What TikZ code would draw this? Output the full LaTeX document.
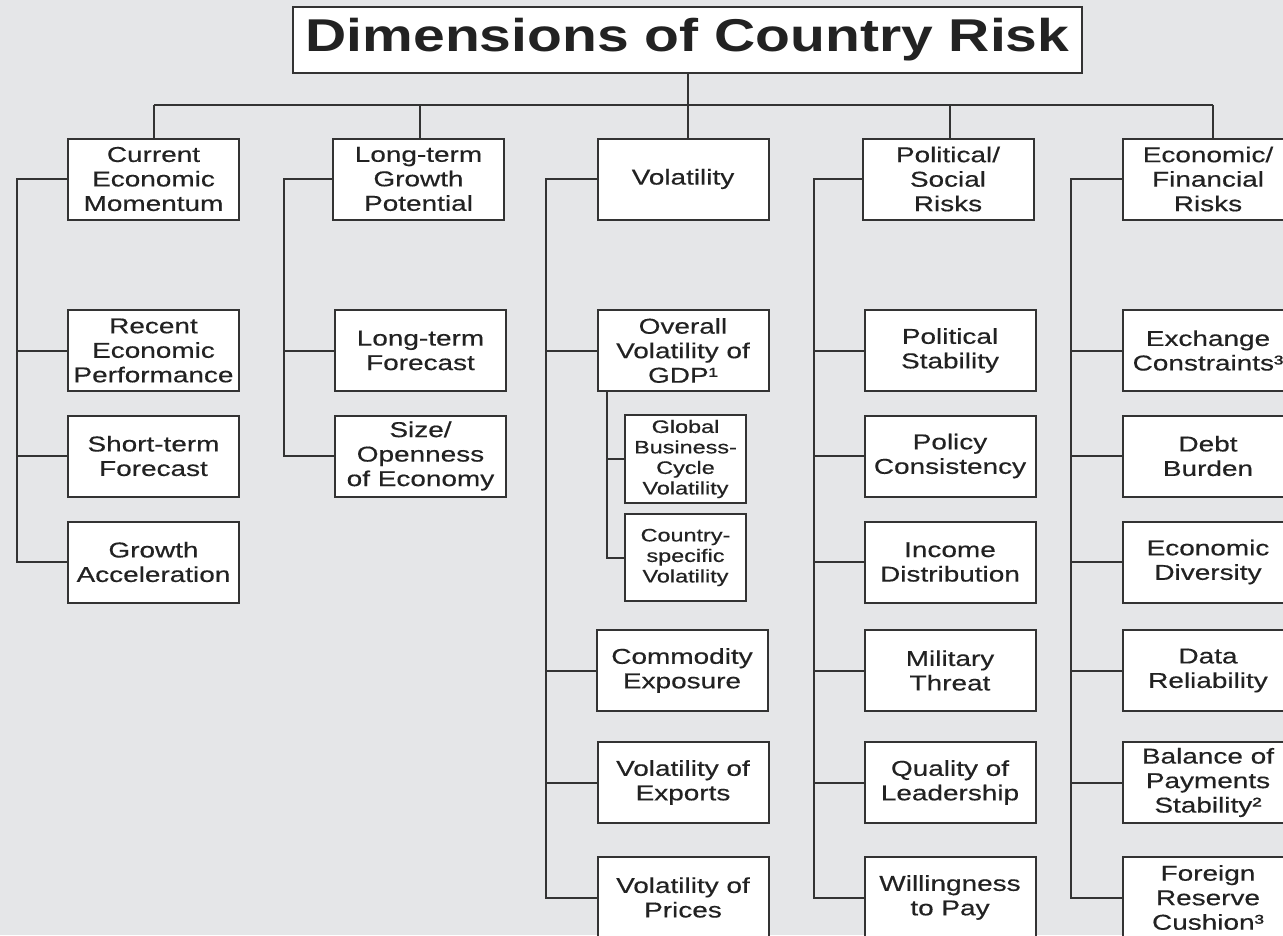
\documentclass[tikz,border=0pt]{standalone}
\usepackage{fontspec}
\newfontfamily\boxfont[FakeStretch=1.3,FakeBold=0.4]{Liberation Sans}
\newfontfamily\smallfont[FakeStretch=1.3,FakeBold=0.6]{Liberation Sans}
\newfontfamily\titlefont[FakeStretch=1.24]{Liberation Sans}
\definecolor{bgc}{HTML}{E5E6E8}
\definecolor{linec}{HTML}{333333}
\definecolor{textc}{HTML}{222222}
\tikzset{
  box/.style={draw=linec, line width=2pt, fill=white, minimum width=171pt,
    minimum height=81pt, inner sep=0pt, align=center, text=textc,
    font=\boxfont\fontsize{21.5}{24.5}\selectfont},
  smallbox/.style={box, minimum width=121pt, minimum height=88pt,
    font=\smallfont\fontsize{18}{20.5}\selectfont},
  link/.style={draw=linec, line width=2pt}
}
\begin{document}
\begin{tikzpicture}[x=1pt, y=-1pt]
\fill[bgc] (0,0) rectangle (1283,935);
\useasboundingbox (0,0) rectangle (1283,935);
% title
\node[box, minimum width=789pt, minimum height=66pt,
  font=\titlefont\bfseries\fontsize{46}{50}\selectfont] (title) at (687.5,40) {Dimensions of Country Risk};
% top level
\node[box] (cem) at (153.5,179) {Current\\Economic\\Momentum};
\node[box] (ltg) at (418.5,179) {Long-term\\Growth\\Potential};
\node[box] (vol) at (683,179) {Volatility};
\node[box] (pol) at (948,179) {Political/\\Social\\Risks};
\node[box] (eco) at (1208,179) {Economic/\\Financial\\Risks};
% column A
\node[box] (rep) at (153.5,350.5) {Recent\\Economic\\Performance};
\node[box] (stf) at (153.5,456) {Short-term\\Forecast};
\node[box] (gra) at (153.5,562) {Growth\\Acceleration};
% column B
\node[box] (ltf) at (420.5,350.5) {Long-term\\Forecast};
\node[box] (soe) at (420.5,456) {Size/\\Openness\\of Economy};
% column C
\node[box] (ovg) at (683,350.5) {Overall\\Volatility of\\GDP¹};
\node[smallbox] (gbc) at (685.5,459) {Global\\Business-\\Cycle\\Volatility};
\node[smallbox, minimum height=87pt] (csv) at (685.5,557.5) {Country-\\specific\\Volatility};
\node[box] (cex) at (682,670.5) {Commodity\\Exposure};
\node[box] (vex) at (683,782.5) {Volatility of\\Exports};
\node[box] (vpr) at (683,897.5) {Volatility of\\Prices};
% column D
\node[box] (pst) at (950,350.5) {Political\\Stability};
\node[box] (pco) at (950,456) {Policy\\Consistency};
\node[box] (idi) at (950,562) {Income\\Distribution};
\node[box] (mth) at (950,670.5) {Military\\Threat};
\node[box] (qol) at (950,782.5) {Quality of\\Leadership};
\node[box] (wtp) at (950,897.5) {Willingness\\to Pay};
% column E
\node[box] (exc) at (1208,350.5) {Exchange\\Constraints³};
\node[box] (dbu) at (1208,456) {Debt\\Burden};
\node[box] (edi) at (1208,562) {Economic\\Diversity};
\node[box] (dre) at (1208,670.5) {Data\\Reliability};
\node[box] (bop) at (1208,782.5) {Balance of\\Payments\\Stability²};
\node[box] (frc) at (1208,897.5) {Foreign\\Reserve\\Cushion³};
% bus
\coordinate (sA) at (154,105);
\coordinate (sB) at (420,105);
\coordinate (sD) at (950,105);
\coordinate (sE) at (1213,105);
\draw[link] (sA) -- (sE);
\draw[link] (title.south) -- (title.south |- vol.north);
\draw[link] (sA) -- (sA |- cem.north);
\draw[link] (sB) -- (sB |- ltg.north);
\draw[link] (sD) -- (sD |- pol.north);
\draw[link] (sE) -- (sE |- eco.north);
% spines
\coordinate (pA) at (17,0);
\coordinate (pB) at (284,0);
\coordinate (pC) at (546,0);
\coordinate (pD) at (814,0);
\coordinate (pE) at (1071,0);
\coordinate (pC2) at (607,0);
\draw[link] (cem.west) -| (pA |- gra.west) -- (gra.west);
\draw[link] (rep.west) -- (rep.west -| pA);
\draw[link] (stf.west) -- (stf.west -| pA);
\draw[link] (ltg.west) -| (pB |- soe.west) -- (soe.west);
\draw[link] (ltf.west) -- (ltf.west -| pB);
\draw[link] (vol.west) -| (pC |- vpr.west) -- (vpr.west);
\draw[link] (ovg.west) -- (ovg.west -| pC);
\draw[link] (cex.west) -- (cex.west -| pC);
\draw[link] (vex.west) -- (vex.west -| pC);
\draw[link] (ovg.south -| pC2) |- (csv.west);
\draw[link] (gbc.west) -- (gbc.west -| pC2);
\draw[link] (pol.west) -| (pD |- wtp.west) -- (wtp.west);
\draw[link] (pst.west) -- (pst.west -| pD);
\draw[link] (pco.west) -- (pco.west -| pD);
\draw[link] (idi.west) -- (idi.west -| pD);
\draw[link] (mth.west) -- (mth.west -| pD);
\draw[link] (qol.west) -- (qol.west -| pD);
\draw[link] (eco.west) -| (pE |- frc.west) -- (frc.west);
\draw[link] (exc.west) -- (exc.west -| pE);
\draw[link] (dbu.west) -- (dbu.west -| pE);
\draw[link] (edi.west) -- (edi.west -| pE);
\draw[link] (dre.west) -- (dre.west -| pE);
\draw[link] (bop.west) -- (bop.west -| pE);
\end{tikzpicture}
\end{document}
